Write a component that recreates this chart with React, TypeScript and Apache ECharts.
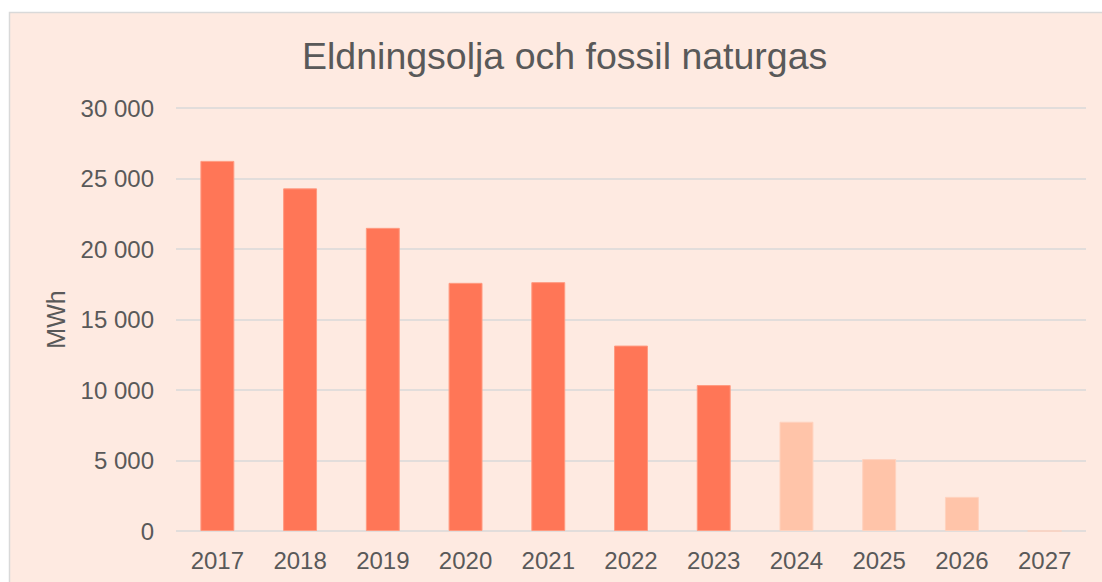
import React, { useEffect, useRef } from "react";
import * as echarts from "echarts";

const categories = ["2017", "2018", "2019", "2020", "2021", "2022", "2023", "2024", "2025", "2026", "2027"];
const values = [26250, 24300, 21500, 17600, 17650, 13150, 10350, 7750, 5100, 2420, 0];
const forecast = [false, false, false, false, false, false, false, true, true, true, true];
const yTicks = { min: 0, max: 30000, interval: 5000 };

const fmt = (v: number) => String(v).replace(/\B(?=(\d{3})+(?!\d))/g, " ");

export default function App() {
  const ref = useRef<HTMLDivElement>(null);
  useEffect(() => {
    const chart = echarts.init(ref.current!, null, { renderer: "svg" });
    const font = "Liberation Sans";
    chart.setOption({
      animation: false,
      backgroundColor: "#ffffff",
      graphic: [
        {
          type: "rect",
          z: -10,
          silent: true,
          shape: { x: 9.5, y: 12.5, width: 1100, height: 580 },
          style: { fill: "#FEEAE1", stroke: "#D9D9D9", lineWidth: 1.5 },
        },
      ],
      title: {
        text: "Eldningsolja och fossil naturgas",
        left: 297,
        top: 32,
        textStyle: { fontFamily: font, fontSize: 37.5, fontWeight: "normal", color: "#595959" },
      },
      grid: { left: 176, right: 16, top: 108, bottom: 51 },
      xAxis: {
        type: "category",
        data: categories,
        axisLine: { show: false },
        axisTick: { show: false },
        axisLabel: { fontFamily: font, fontSize: 24, color: "#595959", margin: 17 },
      },
      yAxis: {
        type: "value",
        min: yTicks.min,
        max: yTicks.max,
        interval: yTicks.interval,
        name: "MWh",
        nameLocation: "middle",
        nameGap: 108,
        nameTextStyle: { fontFamily: font, fontSize: 25, color: "#595959" },
        axisLine: { show: false },
        axisTick: { show: false },
        splitLine: { lineStyle: { color: "#D9D9D9", width: 1.5 } },
        axisLabel: { fontFamily: font, fontSize: 24, color: "#595959", margin: 22, formatter: (v: number) => fmt(v) },
      },
      series: [
        {
          type: "bar",
          barWidth: "41%",
          data: values.map((v, i) => ({
            value: v,
            itemStyle: {
              color: forecast[i] ? "#FFC4A9" : "#FF7657",
              borderColor: forecast[i] ? "#FFD2BE" : "#FF9A80",
              borderWidth: 1,
            },
          })),
        },
      ],
    });
    return () => chart.dispose();
  }, []);
  return <div ref={ref} style={{ position: "fixed", left: 0, top: 0, width: 1102, height: 582 }} />;
}
